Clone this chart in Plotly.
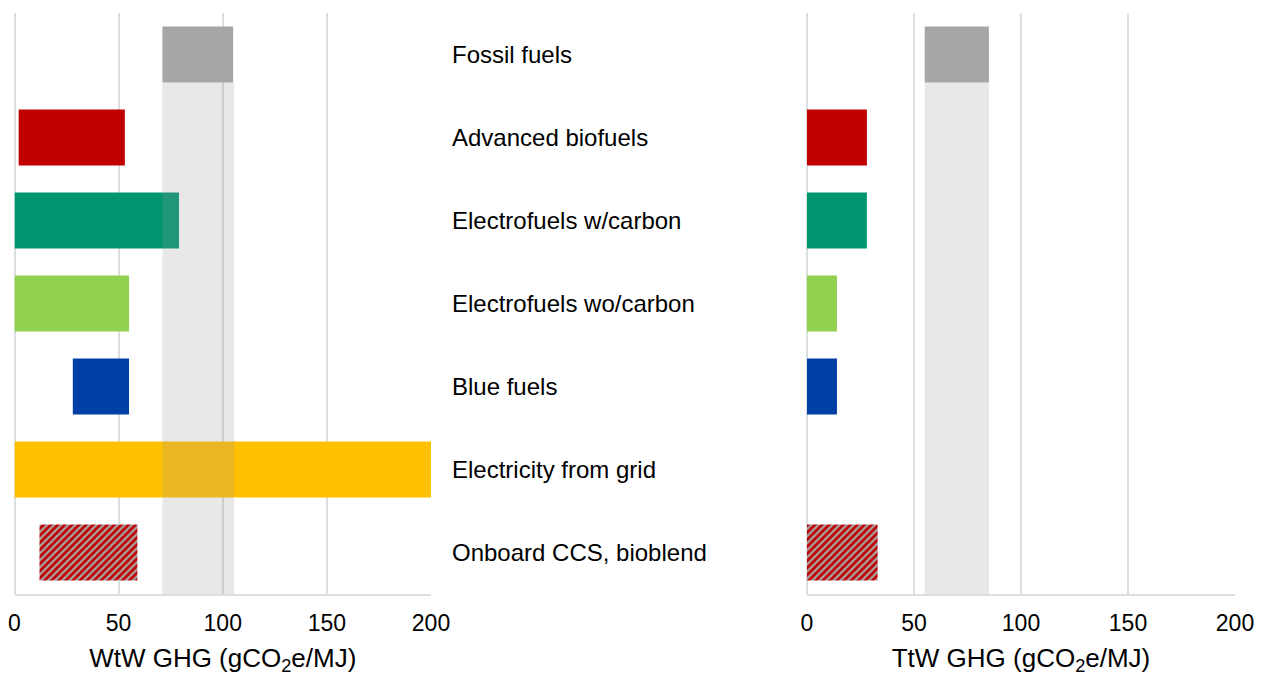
import plotly.graph_objects as go

categories = ["Fossil fuels", "Advanced biofuels", "Electrofuels w/carbon",
              "Electrofuels wo/carbon", "Blue fuels", "Electricity from grid",
              "Onboard CCS, bioblend"]
colors = ["#a6a6a6", "#c00000", "#009670", "#92d050", "#003fa6", "#ffc000", "#c00000"]
hatched = [False, False, False, False, False, False, True]

# WtW ranges (low, high)
wtw_low = [71, 2, 0, 0, 28, 0, 12]
wtw_high = [105, 53, 79, 55, 55, 200, 59]
# TtW ranges (low, high)
ttw_low = [55, 0, 0, 0, 0, 0, 0]
ttw_high = [85, 28, 28, 14, 14, 0, 33]

# fossil reference band
wtw_band = [71, 105.5]
ttw_band = [55, 85]

ticks = [0, 50, 100, 150, 200]

# page body has an 8px margin: lay the figure out in shifted coordinates
OFF = 8
W, H = 1263 - OFF, 676 - OFF
FONT = "Liberation Sans, Arial, sans-serif"
BARW = 0.675
GRID = "#dcdfdf"


def px(x):
    return (x - OFF) / W


fig = go.Figure()
ypos = list(range(len(categories)))

for xa, lo, hi in (("x", wtw_low, wtw_high), ("x2", ttw_low, ttw_high)):
    for i in ypos:
        if hi[i] - lo[i] <= 0:
            continue
        marker = dict(color=colors[i], line=dict(width=0))
        if hatched[i]:
            marker["pattern"] = dict(shape="/", bgcolor="#c00000", fgcolor="#a6a6a6",
                                     fgopacity=1, size=5, solidity=0.45)
        fig.add_trace(go.Bar(
            y=[ypos[i]], x=[hi[i] - lo[i]], base=[lo[i]], orientation="h",
            width=BARW, marker=marker, xaxis=xa, yaxis="y", showlegend=False,
            hoverinfo="skip"))

for xref, band in (("x", wtw_band), ("x2", ttw_band)):
    fig.add_shape(type="rect", xref=xref, yref="y", x0=band[0], x1=band[1],
                  y0=ypos[0] + BARW / 2, y1=len(categories) - 0.5,
                  fillcolor="rgba(152,152,152,0.224)", line=dict(width=0), layer="above")

for i, c in enumerate(categories):
    fig.add_annotation(text=c, xref="paper", yref="y", x=px(450), y=ypos[i],
                       xanchor="left", yanchor="middle", showarrow=False,
                       font=dict(family=FONT, size=24, color="#000000"))

axis_common = dict(range=[0, 200], tickvals=ticks, showgrid=True, gridcolor=GRID,
                   gridwidth=2, zeroline=True, zerolinecolor=GRID, zerolinewidth=2,
                   showline=True, linecolor=GRID, linewidth=2, ticks="",
                   tickfont=dict(family=FONT, size=23, color="#000000"),
                   ticklabelstandoff=7, automargin=False, fixedrange=True)

fig.update_layout(
    width=W, height=H,
    margin=dict(l=0, r=0, t=13 - OFF, b=676 - 594, autoexpand=False),
    paper_bgcolor="white", plot_bgcolor="white",
    barmode="overlay",
    xaxis=dict(domain=[px(14.5), px(431)], anchor="y",
               title=dict(text="WtW GHG (gCO<sub>2</sub>e/MJ)", standoff=15,
                          font=dict(family=FONT, size=26, color="#000000")),
               **axis_common),
    xaxis2=dict(domain=[px(807), px(1235)], anchor="y",
                title=dict(text="TtW GHG (gCO<sub>2</sub>e/MJ)", standoff=15,
                           font=dict(family=FONT, size=26, color="#000000")),
                **axis_common),
    yaxis=dict(range=[len(categories) - 0.5, -0.5], showticklabels=False,
               showgrid=False, zeroline=False, showline=False, ticks="",
               automargin=False, fixedrange=True),
)

fig.write_html("out.html")
